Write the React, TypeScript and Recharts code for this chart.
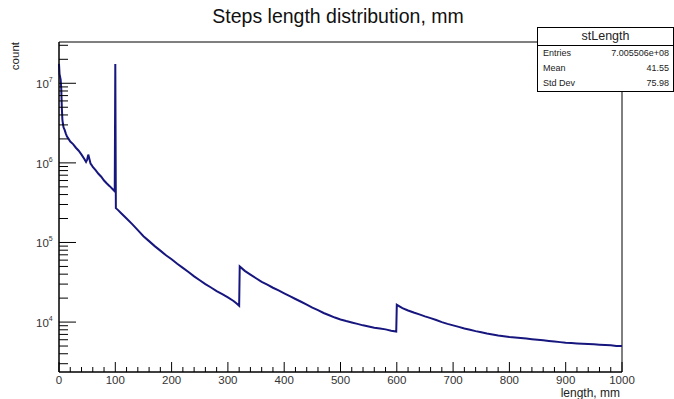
import React from 'react'
import { LineChart, Line, XAxis, YAxis, ReferenceArea } from 'recharts'

// step length (mm) and counts
const lengthMm = [
  0, 1, 2, 3, 4, 5, 6, 7, 8, 10, 12, 14, 17, 20, 25, 30, 35, 40, 45, 48, 50, 52, 54, 56, 58, 60, 65, 70, 75, 80,
  85, 90, 95, 99, 100, 101, 105, 110, 120, 130, 140, 150, 160, 170, 180, 190, 200, 210, 220, 230, 240, 250, 260,
  270, 280, 290, 300, 310, 315, 320, 321, 330, 340, 350, 360, 370, 380, 390, 400, 410, 420, 430, 440, 450, 460,
  470, 480, 490, 500, 510, 520, 530, 540, 550, 560, 570, 580, 590, 599, 600, 610, 620, 630, 640, 650, 660, 670,
  680, 690, 700, 710, 720, 730, 740, 750, 760, 770, 780, 790, 800, 810, 820, 830, 840, 850, 860, 870, 880, 890,
  900, 910, 920, 930, 940, 950, 960, 970, 980, 990, 1000,
]
const counts = [
  1.75e7, 1.3e7, 1.2e7, 1.1e7, 8.5e6, 5.0e6, 3.5e6, 3.1e6, 2.8e6, 2.6e6, 2.35e6, 2.15e6, 2.0e6, 1.85e6, 1.72e6,
  1.55e6, 1.42e6, 1.27e6, 1.12e6, 1.03e6, 1.1e6, 1.27e6, 1.12e6, 9.8e5, 9.4e5, 8.9e5, 8.1e5, 7.3e5, 6.7e5, 6.0e5,
  5.5e5, 5.1e5, 4.7e5, 4.4e5, 1.75e7, 2.7e5, 2.55e5, 2.35e5, 2.0e5, 1.7e5, 1.43e5, 1.2e5, 1.04e5, 9.0e4, 7.9e4,
  6.9e4, 6.15e4, 5.4e4, 4.8e4, 4.25e4, 3.75e4, 3.35e4, 3.0e4, 2.72e4, 2.45e4, 2.24e4, 2.04e4, 1.84e4, 1.72e4,
  1.6e4, 5.0e4, 4.4e4, 3.95e4, 3.55e4, 3.2e4, 2.95e4, 2.7e4, 2.5e4, 2.3e4, 2.12e4, 1.95e4, 1.8e4, 1.66e4, 1.52e4,
  1.41e4, 1.3e4, 1.22e4, 1.14e4, 1.08e4, 1.03e4, 9.9e3, 9.5e3, 9.1e3, 8.8e3, 8.5e3, 8.3e3, 8.1e3, 7.8e3, 7.6e3,
  1.65e4, 1.5e4, 1.4e4, 1.32e4, 1.25e4, 1.18e4, 1.12e4, 1.06e4, 1.0e4, 9.5e3, 9.1e3, 8.7e3, 8.3e3, 8.0e3, 7.7e3,
  7.45e3, 7.2e3, 7.0e3, 6.8e3, 6.65e3, 6.5e3, 6.4e3, 6.3e3, 6.2e3, 6.1e3, 6.0e3, 5.9e3, 5.8e3, 5.7e3, 5.6e3,
  5.5e3, 5.45e3, 5.4e3, 5.35e3, 5.3e3, 5.25e3, 5.2e3, 5.15e3, 5.1e3, 5.0e3, 5.0e3,
]

const xTicks = [
  0, 20, 40, 60, 80, 100, 120, 140, 160, 180, 200, 220, 240, 260, 280, 300, 320, 340, 360, 380, 400, 420, 440, 460,
  480, 500, 520, 540, 560, 580, 600, 620, 640, 660, 680, 700, 720, 740, 760, 780, 800, 820, 840, 860, 880, 900,
  920, 940, 960, 980, 1000,
]
const yTicks = [
  3e3, 4e3, 5e3, 6e3, 7e3, 8e3, 9e3, 1e4, 2e4, 3e4, 4e4, 5e4, 6e4, 7e4, 8e4, 9e4, 1e5, 2e5, 3e5, 4e5, 5e5, 6e5,
  7e5, 8e5, 9e5, 1e6, 2e6, 3e6, 4e6, 5e6, 6e6, 7e6, 8e6, 9e6, 1e7, 2e7, 3e7,
]
const yDomain = [2360, 3.3e7]

const statRows = [
  ['Entries', '7.005506e+08'],
  ['Mean', '41.55'],
  ['Std Dev', '75.98'],
]

const histData = lengthMm.map((x, i) => ({ x, count: counts[i] }))

const FONT = '"Liberation Sans", Arial, Helvetica, sans-serif'
const LINE_COLOR = '#16167e'

const XTick = (props: any) => {
  const { x, y, payload } = props
  const v = payload.value
  const major = v % 100 === 0
  return (
    <g>
      <line x1={x} y1={y} x2={x} y2={y - (major ? 10 : 5)} stroke="#000" />
      {major && (
        <text x={x} y={y + 12} textAnchor="middle" fontSize={11.5} fill="#333" fontFamily={FONT}>
          {v}
        </text>
      )}
    </g>
  )
}

const YTick = (props: any) => {
  const { x, y, payload } = props
  const v = payload.value
  const lg = Math.log10(v)
  const exp = Math.round(lg)
  const major = Math.abs(lg - exp) < 1e-6
  return (
    <g>
      <line x1={x} y1={y} x2={x + (major ? 17 : 9)} y2={y} stroke="#000" />
      {major && (
        <text x={x - 23} y={y + 5} fontSize={11.5} fill="#333" fontFamily={FONT}>
          10
          <tspan dy={-6} fontSize={7}>
            {exp}
          </tspan>
        </text>
      )}
    </g>
  )
}

const App: React.FC = () => {
  return (
    <div style={{ position: 'absolute', left: 0, top: 0, width: 674, height: 399, background: '#fff' }}>
      <LineChart width={674} height={399} data={histData} margin={{ top: 42, right: 52, bottom: 0, left: 0 }}>
        <XAxis
          dataKey="x"
          type="number"
          domain={[0, 1000]}
          ticks={xTicks}
          interval={0}
          height={27}
          tickSize={0}
          tickMargin={0}
          tick={<XTick />}
          axisLine={{ stroke: '#000' }}
          tickLine={false}
        />
        <YAxis
          type="number"
          scale="log"
          domain={yDomain}
          allowDataOverflow
          ticks={yTicks}
          interval={0}
          width={59}
          tickSize={0}
          tickMargin={0}
          tick={<YTick />}
          axisLine={{ stroke: '#000' }}
          tickLine={false}
        />
        <ReferenceArea x1={0} x2={1000} y1={yDomain[0]} y2={yDomain[1]} fill="none" stroke="#000" strokeWidth={1} />
        <Line
          type="linear"
          dataKey="count"
          stroke={LINE_COLOR}
          strokeWidth={2}
          dot={false}
          isAnimationActive={false}
        />
      </LineChart>

      <svg width={674} height={399} style={{ position: 'absolute', left: 0, top: 0, pointerEvents: 'none' }}>
        <text x={338} y={23} textAnchor="middle" fontSize={19.5} fill="#111" fontFamily={FONT}>
          Steps length distribution, mm
        </text>
        <text transform="translate(19,42) rotate(-90)" textAnchor="end" fontSize={11.5} fill="#222" fontFamily={FONT}>
          count
        </text>
        <text x={620} y={397} textAnchor="end" fontSize={12} fill="#222" fontFamily={FONT}>
          length, mm
        </text>
      </svg>

      <div
        style={{
          position: 'absolute',
          left: 537,
          top: 27,
          width: 135,
          height: 63,
          border: '1px solid #000',
          background: '#fff',
          fontFamily: FONT,
          color: '#222',
        }}
      >
        <div
          style={{
            height: 17,
            borderBottom: '1px solid #000',
            textAlign: 'center',
            fontSize: 12.5,
            lineHeight: '17px',
          }}
        >
          stLength
        </div>
        {statRows.map(([label, value]) => (
          <div
            key={label}
            style={{
              display: 'flex',
              justifyContent: 'space-between',
              fontSize: 9,
              height: 15,
              lineHeight: '15px',
              padding: '0 4px 0 5px',
            }}
          >
            <span>{label}</span>
            <span>{value}</span>
          </div>
        ))}
      </div>
    </div>
  )
}

export default App
